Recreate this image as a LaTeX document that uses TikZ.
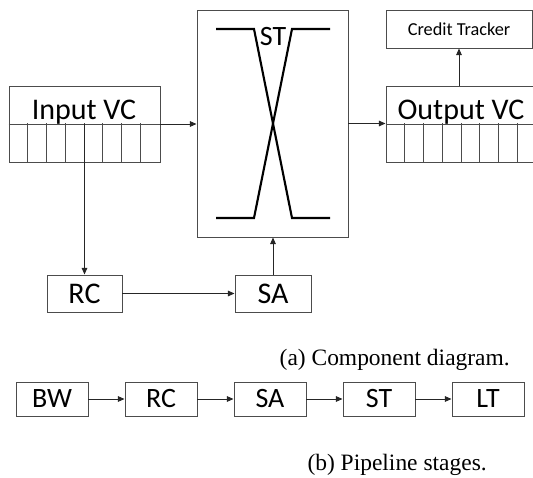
\documentclass[tikz,border=0pt]{standalone}
\usepackage{fontspec}
\setmainfont{Liberation Serif}
\newfontfamily\boxfont{Carlito}
\usepackage{tikz}
\usetikzlibrary{arrows.meta,positioning,calc}

\begin{document}
\begin{tikzpicture}[x=0.75pt, y=-0.75pt,
          blk/.style={draw=black!70, line width=0.7pt, inner sep=0pt,
                      font=\boxfont\fontsize{22.5}{26}\selectfont},
          vcbox/.style={blk, minimum width=113.25pt, minimum height=57pt},
          stage/.style={blk, minimum width=54pt, minimum height=25.5pt,
                        font=\boxfont\fontsize{21}{24}\selectfont},
          conn/.style={black!85, line width=0.7pt, -{Triangle[length=5pt,width=4.2pt]}},
          slot/.style={black!70, line width=0.7pt},
          xbar/.style={black, line width=1.6pt},
          capt/.style={font=\fontsize{17.6}{20}\selectfont, inner sep=0pt}
        ]
          \useasboundingbox (0,0) rectangle (533,478);

          % Puffer
          \node[vcbox] (invc) at (84.5,124) {};
          \node[vcbox] (outvc) at (461.5,124) {};
          \node[blk, font=\boxfont\fontsize{13.7}{16}\selectfont,
                minimum width=109.5pt, minimum height=28.5pt] (ct) at (459,29) {Credit Tracker};

          % Slots
          \draw[slot] (invc.west) -- (invc.east);
          \draw[slot] (outvc.west) -- (outvc.east);
          \foreach \k in {1,...,7} {
            \draw[slot] ($(invc.south west)+(\k*18.875,0)$) -- ++(0,-39);
            \draw[slot] ($(outvc.south west)+(\k*18.875,0)$) -- ++(0,-39);
          }
          \node[blk, draw=none, anchor=base] (inlbl) at (84,120) {Input VC};
          \node[blk, draw=none, anchor=base] (outlbl) at (461,120) {Output VC};

          % Crossbar
          \node[blk, minimum width=113.25pt, minimum height=170.25pt] (st) at (272.5,123.5) {};
          \draw[xbar] (216,29) -- (254,29) -- (292,218) -- (330,218);
          \draw[xbar] (216,218) -- (254,218) -- (292,29) -- (330,29);
          \node[blk, draw=none, font=\boxfont\fontsize{21}{24}\selectfont] (stlbl) at (273,37) {ST};

          % RC und SA
          \node[blk, minimum width=56.25pt, minimum height=27.75pt] (rc) at (84.5,293.5) {RC};
          \node[blk, minimum width=57pt, minimum height=27.75pt] (sa) at (273,293.5) {SA};

          % Verbindungen
          \draw[conn] (invc.east) -- (invc.east -| st.west);
          \draw[conn] (st.east) -- (st.east -| outvc.west);
          \draw[conn] (ct.south |- outvc.north) -- (ct.south);
          \draw[conn] (invc.center) -- (rc.north);
          \draw[conn] (rc.east) -- (sa.west);
          \draw[conn] (sa.north) -- (sa.north |- st.south);

          \node[capt, anchor=base east] (capa) at (510,365) {(a) Component diagram.};

          % Pipeline
          \node[stage] (p1) at (52,399) {BW};
          \node[stage] (p2) at (161,399) {RC};
          \node[stage] (p3) at (270,399) {SA};
          \node[stage] (p4) at (379,399) {ST};
          \node[stage] (p5) at (488,399) {LT};
          \foreach \a/\b in {p1/p2,p2/p3,p3/p4,p4/p5}
            \draw[conn] (\a.east) -- (\b.west);

          \node[capt, anchor=base east] (capb) at (487,470) {(b) Pipeline stages.};
        \end{tikzpicture}
\end{document}
